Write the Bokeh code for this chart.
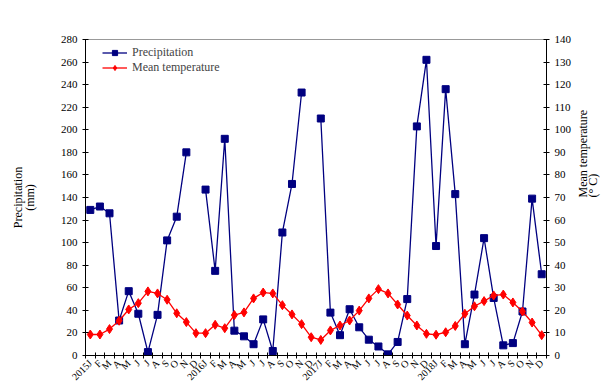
import math
from bokeh.plotting import figure
from bokeh.models import Range1d, LinearAxis, FixedTicker, ColumnDataSource, Legend, LegendItem
from bokeh.embed import file_html
from bokeh.resources import INLINE

nan = float("nan")

years = [2015, 2016, 2017, 2018]
months = ["J", "F", "M", "A", "M", "J", "J", "A", "S", "O", "N", "D"]
tick_labels = [(f"{y}J" if m == 0 else months[m]) for y in years for m in range(12)]

precip_2015 = [129, 132, 126, 31, 57, 37, 3, 36, 102, 123, 180, nan]
precip_2016 = [147, 75, 192, 22, 17, 10, 32, 4, 109, 152, 233, nan]
precip_2017 = [210, 38, 18, 41, 25, 14, 8, 1, 12, 50, 203, 262]
precip_2018 = [97, 236, 143, 10, 54, 104, 51, 9, 11, 39, 139, 72]

temp_2015 = [9.3, 9.3, 11.7, 15.4, 20.4, 23.2, 28.4, 27.5, 24.7, 18.7, 14.8, 9.9]
temp_2016 = [9.9, 13.6, 12.1, 17.9, 19.1, 25.3, 27.9, 27.5, 22.3, 18.2, 13.9, 8.1]
temp_2017 = [6.9, 11.1, 13.3, 15.5, 19.9, 25.3, 29.4, 27.5, 22.6, 17.7, 13.3, 9.6]
temp_2018 = [9.2, 10.3, 13.1, 18.5, 21.8, 24.1, 26.6, 27.0, 23.5, 19.5, 14.6, 9.0]

precip = precip_2015 + precip_2016 + precip_2017 + precip_2018
temp = temp_2015 + temp_2016 + temp_2017 + temp_2018
idx = list(range(len(precip)))

FONT = "Liberation Serif"
BLUE = "#000080"
RED = "#FF0000"

src = ColumnDataSource(dict(x=idx, precip=precip, temp=temp))

p = figure(width=609, height=392, output_backend="svg", toolbar_location=None,
           x_range=Range1d(-0.5, len(idx) - 0.5), y_range=Range1d(0, 280),
           min_border_left=85, min_border_right=60, min_border_top=39, min_border_bottom=37,
           background_fill_color="white", border_fill_color="white")
p.extra_y_ranges = {"temp": Range1d(0, 140)}

p.xgrid.visible = False
p.ygrid.visible = False
p.outline_line_color = "#999999"
p.outline_line_width = 1

lp = p.line("x", "precip", source=src, color=BLUE, line_width=1.3)
sp = p.scatter("x", "precip", source=src, marker="square", size=7, color=BLUE)
lt = p.line("x", "temp", source=src, color=RED, line_width=1.3, y_range_name="temp")
st = p.scatter("x", "temp", source=src, marker="diamond", size=9, color=RED, y_range_name="temp")

xa = p.xaxis[0]
xa.ticker = FixedTicker(ticks=idx, minor_ticks=[i - 0.5 for i in range(len(idx) + 1)])
xa.major_label_overrides = {i: lab for i, lab in enumerate(tick_labels)}
xa.major_label_orientation = math.pi / 4
xa.major_tick_in = 0
xa.major_tick_out = 0
xa.minor_tick_in = 3
xa.minor_tick_out = 3
xa.major_label_standoff = 3
xa.major_label_text_font = FONT
xa.major_label_text_font_size = "10px"
xa.major_label_text_color = "black"
xa.axis_line_color = "black"
xa.minor_tick_line_color = "black"

# left axis: ticks + "(mm)", an outer label-only axis carries "Precipitation"
ya = p.yaxis[0]
ya.ticker = FixedTicker(ticks=list(range(0, 281, 20)), minor_ticks=[])
ya.axis_label = "(mm)"
ya.axis_label_standoff = 21
ya2 = LinearAxis(ticker=FixedTicker(ticks=[], minor_ticks=[]), axis_label="Precipitation")
ya2.axis_label_standoff = -5
p.add_layout(ya2, "left")

# right axis: ticks + "Mean temperature", an outer label-only axis carries "(° C)"
ra = LinearAxis(y_range_name="temp", ticker=FixedTicker(ticks=list(range(0, 141, 10)), minor_ticks=[]),
                axis_label="Mean temperature")
ra.axis_label_standoff = 9
ra2 = LinearAxis(y_range_name="temp", ticker=FixedTicker(ticks=[], minor_ticks=[]),
                 axis_label="(° C)")
ra2.axis_label_standoff = -8
for a in (ra, ra2):
    try:
        a.axis_label_orientation = math.pi / 2
    except Exception:
        pass
p.add_layout(ra, "right")
p.add_layout(ra2, "right")

for ax in [ya2, ra2]:
    ax.axis_line_color = None
    ax.major_tick_in = 0
    ax.major_tick_out = 0
    ax.major_label_standoff = 0

for ax in [ya, ya2, ra, ra2]:
    ax.major_label_text_font = FONT
    ax.major_label_text_font_size = "11px"
    ax.major_label_text_color = "black"
    ax.axis_label_text_font = FONT
    ax.axis_label_text_font_size = "12px"
    ax.axis_label_text_font_style = "normal"
    ax.axis_label_text_color = "black"
    ax.minor_tick_in = 0
    ax.minor_tick_out = 0
for ax in [ya, ra]:
    ax.major_tick_in = 3
    ax.major_tick_out = 3
    ax.major_label_standoff = 5
    ax.axis_line_color = "black"
    ax.major_tick_line_color = "black"

legend = Legend(items=[LegendItem(label="Precipitation", renderers=[lp, sp]),
                       LegendItem(label="Mean temperature", renderers=[lt, st])],
                location=(17, 280), padding=0, margin=0, spacing=0,
                glyph_width=25, glyph_height=13, label_height=13, label_standoff=5,
                label_text_font=FONT, label_text_font_size="12px",
                border_line_color=None, background_fill_alpha=0)
p.add_layout(legend)

open("out.html", "w").write(file_html(p, INLINE))
